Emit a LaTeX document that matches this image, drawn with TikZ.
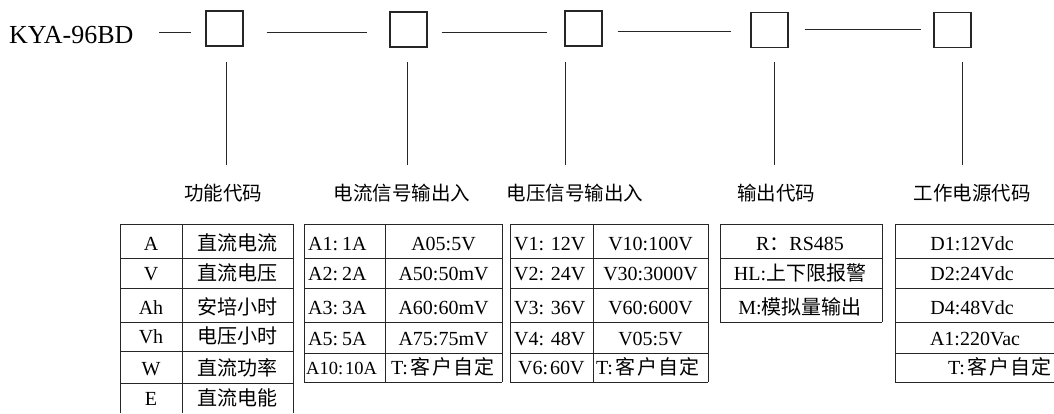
\documentclass[tikz,border=0pt]{standalone}
\usepackage{fontspec}
\setmainfont{Liberation Serif}
\newfontfamily\cjk{Noto Sans CJK SC}
\usetikzlibrary{calc}
\newcommand\tfs{\fontsize{20}{22}\selectfont}
\newcommand\kehu{T:\kern3pt{\cjk 客\kern1.3pt 户\kern1.3pt 自\kern1.3pt 定}}
\begin{document}
\begin{tikzpicture}[x=1pt,y=-1pt,
  codebox/.style={draw=black!85, line width=1.3pt, minimum width=37pt, minimum height=35pt, inner sep=0pt},
  link/.style={line width=1pt, black!85},
  lbl/.style={font=\cjk\fontsize{19.5}{22}\selectfont, inner sep=0pt},
  cell/.style={anchor=base, inner sep=0pt, font=\tfs},
  cellw/.style={anchor=base west, inner sep=0pt, font=\tfs},
  gridln/.style={line width=1pt, black!85}]
\useasboundingbox (0,0) rectangle (1054,413);
\fill[white] (0,0) rectangle (1054,413);

% top chain
\node[anchor=base west, inner sep=0pt, font=\fontsize{26}{28}\selectfont] (kya) at (9,43) {KYA-96BD};
\node[codebox] (b1) at (224.5,28.5) {};
\node[codebox] (b2) at (408.5,29.5) {};
\node[codebox] (b3) at (583.5,28.5) {};
\node[codebox] (b4) at (769.5,30) {};
\node[codebox] (b5) at (952.5,30) {};

\draw[link] ($(b1.west)+(-46,3.5)$) -- ($(b1.west)+(-14,3.5)$);
\draw[link] ($(b1.east)+(23,3.5)$) -- ($(b2.west |- b1.east)+(-22,3.5)$);
\draw[link] ($(b2.east)+(14,2.5)$) -- ($(b3.west |- b2.east)+(-17,2.5)$);
\draw[link] ($(b3.east)+(15,2.5)$) -- ($(b4.west |- b3.east)+(-19,2.5)$);
\draw[link] ($(b4.east)+(16,-1)$) -- ($(b5.west |- b4.east)+(-12,-1)$);

% labels
\node[lbl] (l1) at (223,193) {功能代码};
\node[lbl] (l2) at (402,193) {电流信号输出入};
\node[lbl] (l3) at (575,193) {电压信号输出入};
\node[lbl] (l4) at (776,193) {输出代码};
\node[lbl] (l5) at (972,193) {工作电源代码};

\coordinate (v1) at (226,62);
\coordinate (v2) at (407,62);
\coordinate (v3) at (565,62);
\coordinate (v4) at (774,62);
\coordinate (v5) at (962,62);
\foreach \i in {1,...,5}{
  \draw[link, shorten >=28pt] (v\i) -- (v\i |- l\i.center);
}

% table 1
\foreach \y in {224,258,288,322,351,383} \draw[gridln] (120,\y) -- (293,\y);
\foreach \x in {120,182,293} \draw[gridln] (\x,224) -- (\x,413);
\foreach \a/\b/\y in {A/直流电流/250, V/直流电压/280, Ah/安培小时/314, Vh/电压小时/343, W/直流功率/375, E/直流电能/405}{
  \node[cell] at (151,\y) {\a};
  \node[cell,font=\cjk\tfs] at (237.5,\y) {\b};
}

% table 2
\foreach \y in {224,258,288,322,353,382} \draw[gridln] (304,\y) -- (502,\y);
\foreach \x in {304,385,502} \draw[gridln] (\x,224) -- (\x,382);
\foreach \a/\c/\b/\y in {A1/1A/A05:5V/250, A2/2A/A50:50mV/280, A3/3A/A60:60mV/314, A5/5A/A75:75mV/345}{
  \node[cellw] at (308,\y) {\a:\kern4pt\c};
  \node[cell] at (443.5,\y) {\b};
}
\node[cellw] at (306,374) {\fontsize{18.5}{22}\selectfont A10:\kern2pt 10A};
\node[cellw] at (391,374) {\kehu};

% table 3
\foreach \y in {224,258,288,322,353,382} \draw[gridln] (510,\y) -- (708,\y);
\foreach \x in {510,593,708} \draw[gridln] (\x,224) -- (\x,382);
\foreach \a/\b/\y in {V1: 12V/V10:100V/250, V2: 24V/V30:3000V/280, V3: 36V/V60:600V/314, V4: 48V/V05:5V/345}{
  \node[cellw] at (514,\y) {\a};
  \node[cell] at (650.5,\y) {\b};
}
\node[cellw] at (518,374) {V6:\kern2pt 60V};
\node[cellw] at (596,374) {\kehu};

% table 4
\foreach \y in {224,258,288,322} \draw[gridln] (720,\y) -- (882,\y);
\foreach \x in {720,882} \draw[gridln] (\x,224) -- (\x,322);
\node[cell] at (800,250) {R{\cjk ：}RS485};
\node[cell] at (800,280) {HL:{\cjk 上下限报警}};
\node[cell] at (800,314) {M:{\cjk 模拟量输出}};

% table 5
\foreach \y in {224,258,288,322,353,382} \draw[gridln] (895,\y) -- (1054,\y);
\draw[gridln] (895,224) -- (895,382);
\node[cell] at (972,250) {D1:12Vdc};
\node[cell] at (972,280) {D2:24Vdc};
\node[cell] at (972,314) {D4:48Vdc};
\node[cell] at (975,345) {A1:220Vac};
\node[cellw] at (948,374) {\kehu};
\end{tikzpicture}
\end{document}
